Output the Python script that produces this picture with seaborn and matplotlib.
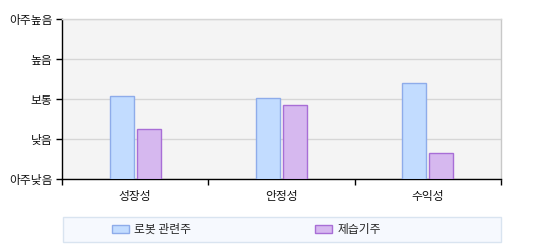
import matplotlib
matplotlib.use("Agg")
import matplotlib.pyplot as plt
from matplotlib.patches import Rectangle, Patch
import seaborn as sns
import pandas as pd

categories = ["성장성", "안정성", "수익성"]
series_names = ["로봇 관련주", "제습기주"]
robot_values = [2.08, 2.03, 2.40]
dehum_values = [1.25, 1.86, 0.66]
y_tick_labels = ["아주낮음", "낮음", "보통", "높음", "아주높음"]

df = pd.DataFrame({
    "category": categories * 2,
    "series": [series_names[0]] * 3 + [series_names[1]] * 3,
    "value": robot_values + dehum_values,
})

sns.set_theme(style="white")
plt.rcParams["font.family"] = ["Noto Sans CJK KR", "DejaVu Sans"]
FS = 8.5

fill_colors = ["#C2DCFF", "#D6B8EF"]
edge_colors = ["#8EACEA", "#A86ED6"]

fig = plt.figure(figsize=(5.44, 2.5), dpi=100)
ax = fig.add_axes([62 / 544, 1 - 179 / 250, (501 - 62) / 544, (179 - 19) / 250])
ax.set_facecolor("#F4F4F4")

sns.barplot(data=df, x="category", y="value", hue="series", hue_order=series_names,
            palette=fill_colors, saturation=1, width=0.37, gap=0.11, ax=ax, legend=False,
            linewidth=1)
for i, container in enumerate(ax.containers):
    for bar in container:
        bar.set_edgecolor(edge_colors[i])
        bar.set_linewidth(1)
        bar.set_zorder(3)

ax.set_ylim(0, 4)
ax.set_xlim(-0.5, 2.5)
ax.set_yticks(range(5))
ax.set_yticklabels(y_tick_labels, fontsize=FS, color="#111111")
ax.yaxis.grid(True, color="#D6D6D6", linewidth=1)
ax.set_axisbelow(True)
ax.set_xlabel("")
ax.set_ylabel("")
ax.set_xticks([0, 1, 2])
ax.set_xticklabels(categories, fontsize=FS, color="#111111")
ax.tick_params(axis="x", length=0, pad=8)
ax.set_xticks([-0.5, 0.5, 1.5, 2.5], minor=True)
ax.tick_params(axis="x", which="minor", length=4, width=1, color="black", direction="out", bottom=True)
ax.tick_params(axis="y", length=4, width=1, color="black", direction="out", left=True, pad=3)

for side in ["left", "bottom"]:
    ax.spines[side].set_color("black")
    ax.spines[side].set_linewidth(1)
ax.spines["right"].set_color("#C8C8C8")
ax.spines["right"].set_linewidth(1)
ax.spines["top"].set_color("#D6D6D6")
ax.spines["top"].set_linewidth(1)

# legend box
fig.patches.append(Rectangle((63 / 544, 1 - 242 / 250), (501 - 63) / 544, (242 - 217) / 250,
                             transform=fig.transFigure, facecolor="#F6F9FE",
                             edgecolor="#D9E4F0", linewidth=1, zorder=0))
handles = [Patch(facecolor=fill_colors[i], edgecolor=edge_colors[i], linewidth=1) for i in range(2)]
fig.legend(handles, series_names, loc="center left",
           bbox_to_anchor=(112 / 544, 1 - 229.5 / 250), ncol=2, frameon=False,
           fontsize=FS, handlelength=1.45, handleheight=0.6, handletextpad=0.45,
           columnspacing=10.45, borderpad=0, borderaxespad=0)

fig.savefig("out.png", dpi=100)
